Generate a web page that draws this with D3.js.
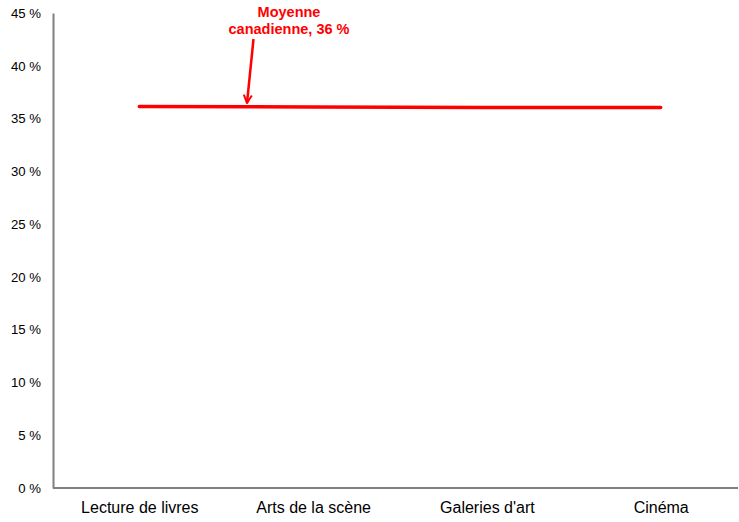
<!DOCTYPE html>
<html><head><meta charset="utf-8">
<script src="https://cdn.jsdelivr.net/npm/d3@7"></script>
<style>body{margin:0;background:#fff}svg{display:block;font-family:"Liberation Sans",Arial,sans-serif}</style>
</head><body><svg id="c" width="739" height="522"></svg>
<script>
const categories = ["Lecture de livres","Arts de la scène","Galeries d'art","Cinéma"];
const values = [36.15, 36.1, 36.05, 36.05];
const yTicks = [0,5,10,15,20,25,30,35,40,45];
const annotationLines = ["Moyenne","canadienne, 36 %"];

const svg = d3.select("#c");
const x = d3.scalePoint().domain(categories).range([139.3, 660.7]);
const y = d3.scaleLinear().domain([0,45]).range([488,13]);

// y axis
const ya = svg.append("g").attr("transform","translate(53,0)")
  .call(d3.axisLeft(y).tickValues(yTicks).tickSize(0).tickPadding(12).tickFormat(d=>d+" %"));
ya.select(".domain").attr("stroke","#808080").attr("stroke-width",2);
ya.selectAll("text").attr("font-size",13.2).attr("fill","#000").attr("font-family","Liberation Sans, Arial, sans-serif");

// x axis
const xa = svg.append("g").attr("transform","translate(0,488)")
  .call(d3.axisBottom(x).tickSize(0).tickPadding(14));
xa.select(".domain").attr("d","M53,0H738").attr("stroke","#808080").attr("stroke-width",2);
xa.selectAll("text").attr("font-size",16).attr("fill","#000").attr("font-family","Liberation Sans, Arial, sans-serif");

// line
svg.append("path").datum(values)
  .attr("fill","none").attr("stroke","#ff0000").attr("stroke-width",3.5).attr("stroke-linecap","round")
  .attr("d", d3.line().x((d,i)=>x(categories[i])).y(d=>y(d)));

// annotation
const t = svg.append("text").attr("text-anchor","middle").attr("fill","#ff0000")
  .attr("font-weight","bold").attr("font-size",14.5);
annotationLines.forEach((s,i)=>t.append("tspan").attr("x",289).attr("y",17+i*17).text(s));

svg.append("defs").append("marker").attr("id","ah").attr("viewBox","0 0 10 10")
  .attr("refX",9).attr("refY",5).attr("markerWidth",4).attr("markerHeight",4).attr("orient","auto")
  .append("path").attr("d","M1,1L9,5L1,9").attr("fill","none").attr("stroke","#ff0000").attr("stroke-width",2);
svg.append("line").attr("x1",253.5).attr("y1",39).attr("x2",247).attr("y2",103)
  .attr("stroke","#ff0000").attr("stroke-width",2.5).attr("marker-end","url(#ah)");
</script></body></html>
